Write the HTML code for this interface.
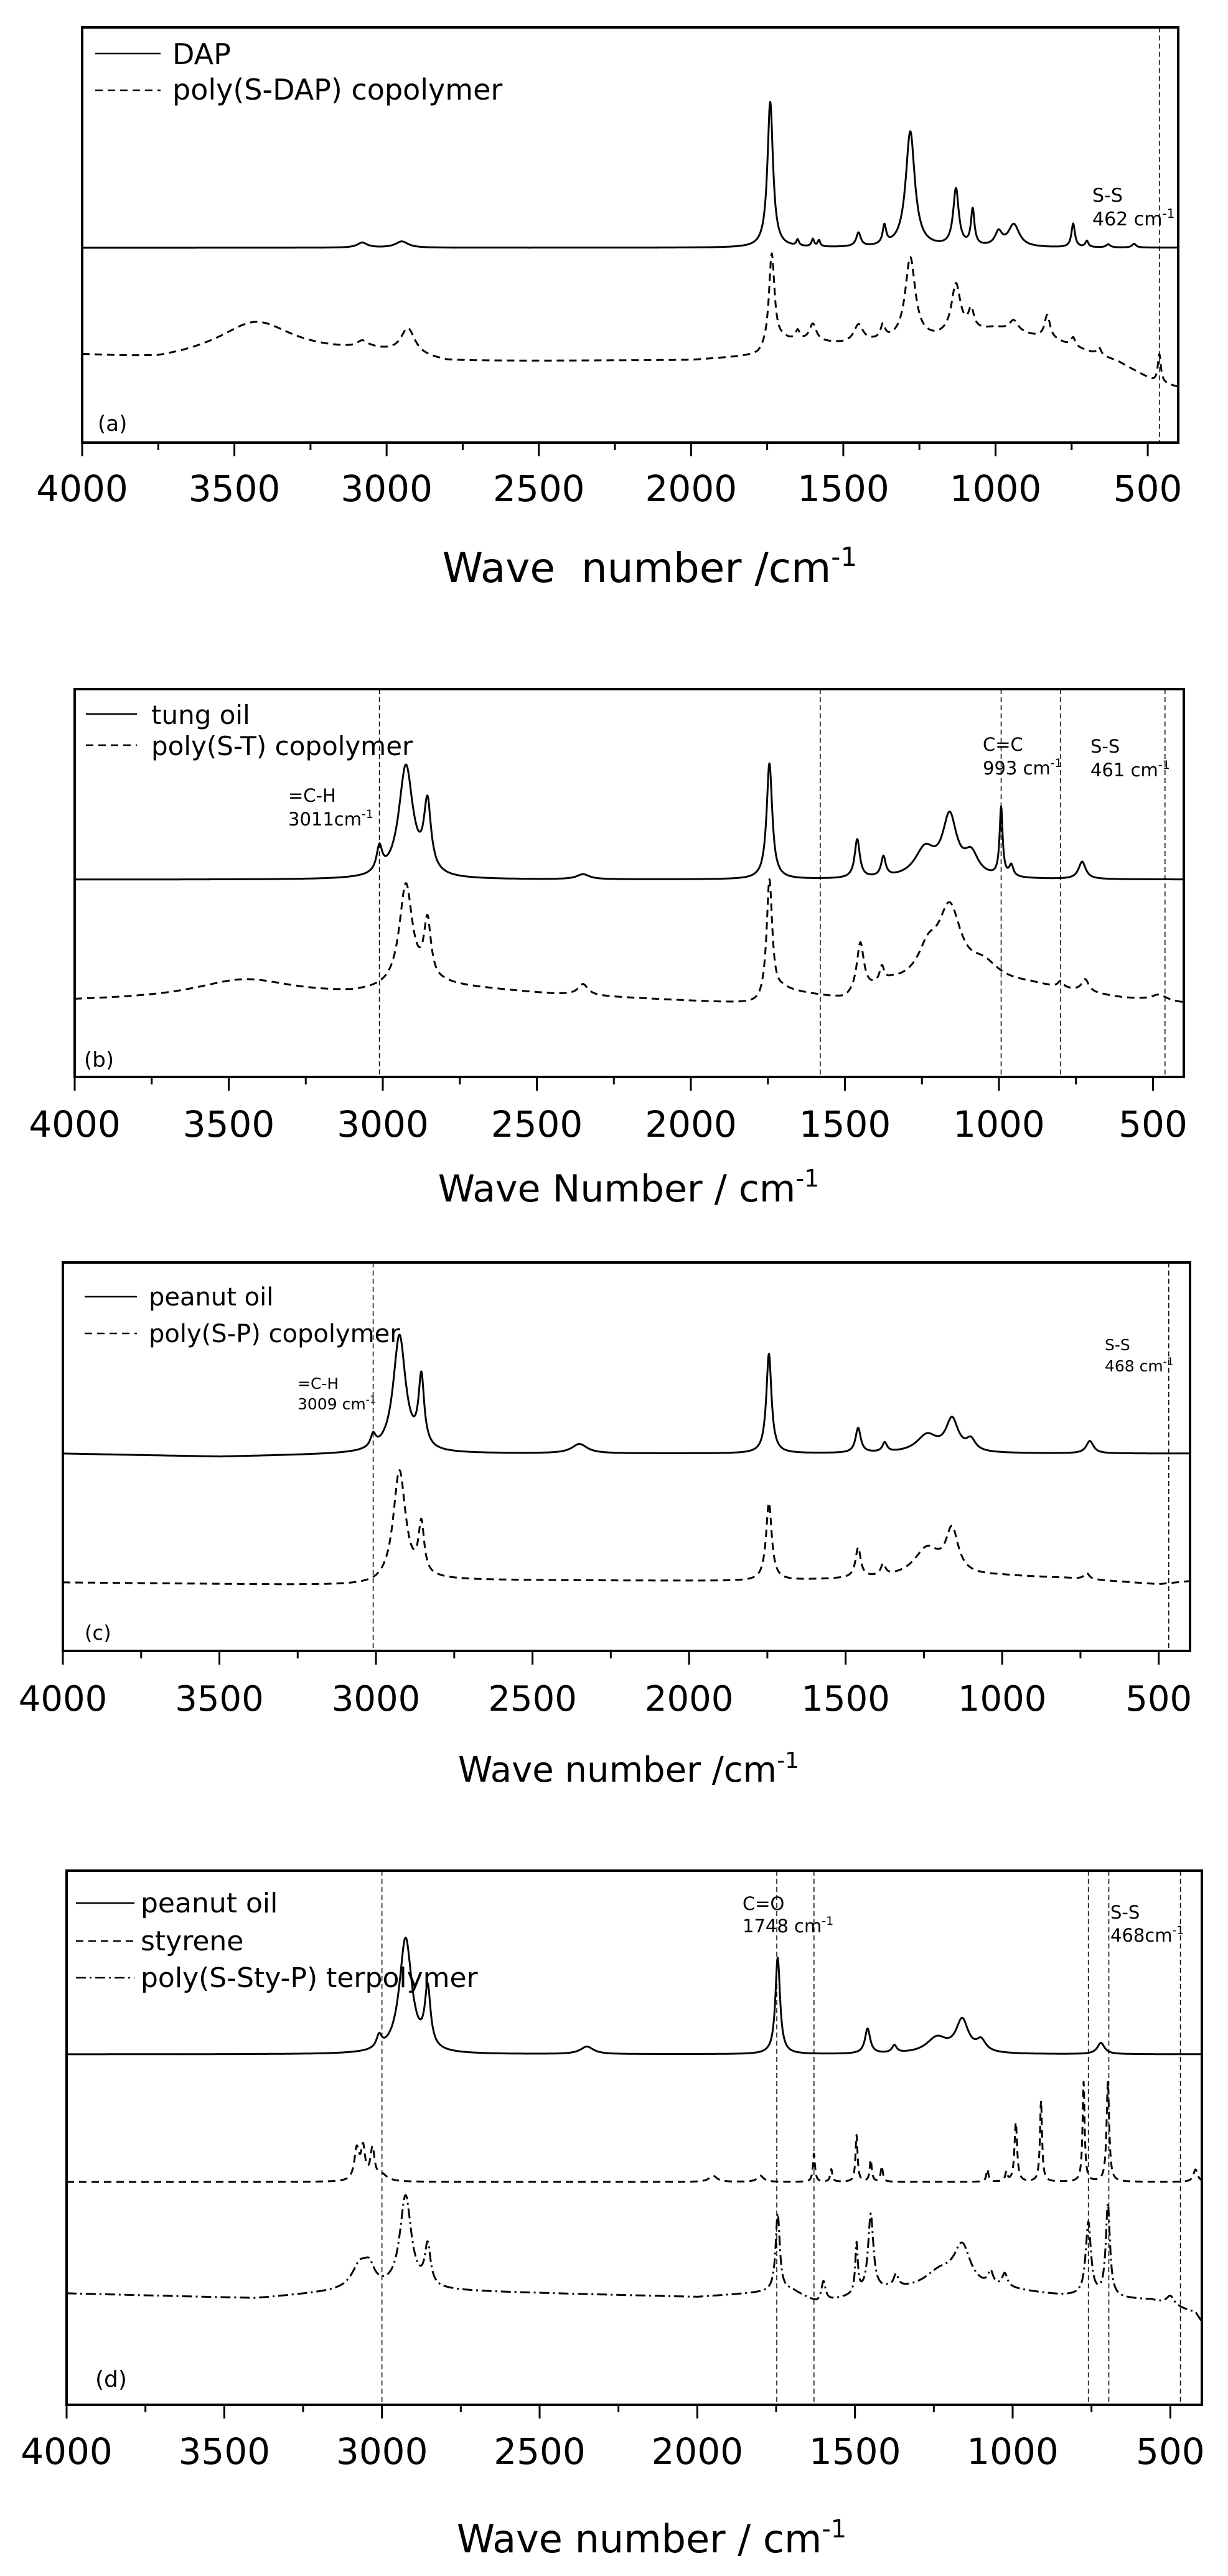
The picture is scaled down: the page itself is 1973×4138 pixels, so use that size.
<!DOCTYPE html>
<html><head><meta charset="utf-8">
<style>
html,body{margin:0;padding:0;background:#fff;}
svg{display:block;}
text{font-family:"DejaVu Sans","Liberation Sans",sans-serif;fill:#000;}
</style></head>
<body>
<svg id="s" width="1973" height="4138" viewBox="0 0 1973 4138" xmlns="http://www.w3.org/2000/svg">
<rect width="1973" height="4138" fill="#fff"/>
<g id="g"></g>
<!-- Panel a texts -->
<text x="277" y="103" font-size="46">DAP</text>
<text x="277" y="160" font-size="46">poly(S-DAP) copolymer</text>
<text x="157" y="692" font-size="34">(a)</text>
<text x="1755" y="324" font-size="30">S-S</text>
<text x="1755" y="362" font-size="30">462 cm<tspan font-size="20" dy="-12">-1</tspan></text>
<text x="1044" y="935" font-size="66" text-anchor="middle">Wave&#160; number /cm<tspan font-size="42" dy="-26">-1</tspan></text>
<!-- Panel b -->
<text x="243" y="1163" font-size="42">tung oil</text>
<text x="243" y="1213" font-size="42">poly(S-T) copolymer</text>
<text x="135" y="1714" font-size="34">(b)</text>
<text x="463" y="1288" font-size="29">=C-H</text>
<text x="463" y="1326" font-size="29">3011cm<tspan font-size="19" dy="-12">-1</tspan></text>
<text x="1579" y="1206" font-size="29">C=C</text>
<text x="1579" y="1244" font-size="29">993 cm<tspan font-size="19" dy="-12">-1</tspan></text>
<text x="1752" y="1209" font-size="29">S-S</text>
<text x="1752" y="1247" font-size="29">461 cm<tspan font-size="19" dy="-12">-1</tspan></text>
<text x="1010" y="1930" font-size="60" text-anchor="middle">Wave Number / cm<tspan font-size="38" dy="-24">-1</tspan></text>
<!-- Panel c -->
<text x="239" y="2097" font-size="40">peanut oil</text>
<text x="239" y="2156" font-size="40">poly(S-P) copolymer</text>
<text x="136" y="2634" font-size="32">(c)</text>
<text x="478" y="2231" font-size="25">=C-H</text>
<text x="478" y="2264" font-size="25">3009 cm<tspan font-size="17" dy="-10">-1</tspan></text>
<text x="1775" y="2169" font-size="25">S-S</text>
<text x="1775" y="2203" font-size="25">468 cm<tspan font-size="17" dy="-10">-1</tspan></text>
<text x="1010" y="2862" font-size="56" text-anchor="middle">Wave number /cm<tspan font-size="36" dy="-22">-1</tspan></text>
<!-- Panel d -->
<text x="226" y="3072" font-size="44">peanut oil</text>
<text x="226" y="3133" font-size="44">styrene</text>
<text x="226" y="3192" font-size="44">poly(S-Sty-P) terpolymer</text>
<text x="153" y="3834" font-size="36">(d)</text>
<text x="1193" y="3068" font-size="29">C=O</text>
<text x="1193" y="3104" font-size="29">1748 cm<tspan font-size="19" dy="-12">-1</tspan></text>
<text x="1784" y="3082" font-size="29">S-S</text>
<text x="1784" y="3119" font-size="29">468cm<tspan font-size="19" dy="-12">-1</tspan></text>
<text x="1047" y="4100" font-size="62" text-anchor="middle">Wave number / cm<tspan font-size="40" dy="-24">-1</tspan></text>
</svg>
<script>
var NS="http://www.w3.org/2000/svg",G=document.getElementById("g");
function el(t,a){var e=document.createElementNS(NS,t);for(var k in a)e.setAttribute(k,a[k]);G.appendChild(e);return e;}
function interp(b,w){for(var i=0;i<b.length-1;i++){if(w<=b[i][0]&&w>=b[i+1][0]){var t=(b[i][0]-w)/(b[i][0]-b[i+1][0]);return b[i][1]+t*(b[i+1][1]-b[i][1]);}}return b[b.length-1][1];}
function curve(P,base,peaks,dash){var d="";for(var w=4000;w>=400;w-=1){var y=interp(base,w);for(var j=0;j<peaks.length;j++){var p=peaks[j],hw=p[2]||8,dx=w-p[0];y-=p[1]*hw*hw/(dx*dx+hw*hw);}var x=P.X(w);d+=(d?"L":"M")+x.toFixed(1)+","+y.toFixed(1);}
var a={d:d,fill:"none",stroke:"#000","stroke-width":3,"stroke-linejoin":"round"};if(dash)a["stroke-dasharray"]=dash;el("path",a);}
function panel(P){P.X=function(w){return P.l+(4000-w)*(P.r-P.l)/3600;};
el("rect",{x:P.l,y:P.t,width:P.r-P.l,height:P.b-P.t,fill:"none",stroke:"#000","stroke-width":4});
for(var w=4000;w>=500;w-=250){var x=P.X(w),maj=(w%500==0);el("line",{x1:x,y1:P.b,x2:x,y2:P.b+(maj?22:12),stroke:"#000","stroke-width":3});
if(maj){var t=el("text",{x:x,y:P.ty,"font-size":P.fs,"text-anchor":"middle"});t.textContent=w;}}
(P.v||[]).forEach(function(w){var x=P.X(w);el("line",{x1:x,y1:P.t,x2:x,y2:P.b,stroke:"#000","stroke-width":1.5,"stroke-dasharray":"8,5"});});
P.leg.forEach(function(L){var a={x1:L[0],y1:L[2],x2:L[1],y2:L[2],stroke:"#000","stroke-width":2.5};if(L[3])a["stroke-dasharray"]=L[3];el("line",a);});}
var DS="12,8",DD="16,6,3,6";
var A={l:132,r:1893,t:44,b:711,ty:805,fs:58,v:[462],leg:[[153,258,86,""],[153,258,145,DS]]};panel(A);
curve(A,[[4000,398],[400,398]],[[1740,234,11],[1280,186,18],[1130,92,11],[1075,58,7],[1365,30,7],[1450,22,9],[940,36,22],[990,22,14],[745,38,7],[3080,8,20],[2950,10,25],[1650,10,5],[1600,12,5],[1580,10,5],[700,10,6],[630,5,8],[545,6,8]]);
curve(A,[[4000,572],[3750,580],[3600,575],[3050,566],[2800,582],[2000,579],[1780,572],[1700,548],[1500,553],[1200,545],[1000,528],[800,548],[600,580],[480,612],[400,622]],[[3430,55,150],[2930,42,28],[3080,10,20],[1735,150,11],[1650,15,8],[1600,28,14],[1450,28,18],[1370,22,9],[1280,132,20],[1130,80,18],[1080,32,11],[940,18,18],[830,38,11],[745,14,8],[660,12,8],[462,45,6]],DS);
var B={l:120,r:1902,t:1107,b:1730,ty:1826,fs:58,v:[3011,1580,993,800,461],leg:[[138,220,1147,""],[138,220,1197,DS]]};panel(B);
curve(B,[[4000,1413],[400,1413]],[[2925,180,28],[2855,110,14],[3011,40,11],[1745,186,11],[1460,62,10],[1375,32,9],[1240,45,40],[1160,95,28],[1090,35,28],[993,110,6],[960,18,8],[730,28,14],[2350,8,25]]);
curve(B,[[4000,1608],[3700,1606],[3100,1600],[2800,1585],[2450,1598],[1780,1614],[1700,1592],[1500,1608],[1350,1582],[900,1583],[600,1604],[400,1612]],[[3450,30,200],[2925,165,26],[2855,95,14],[2350,18,20],[1745,190,11],[1450,80,14],[1380,25,9],[1230,45,40],[1160,115,45],[1050,28,60],[800,10,10],[720,20,14],[480,10,30]],DS);
var C={l:101,r:1912,t:2028,b:2652,ty:2748,fs:56,v:[3009,468],leg:[[136,220,2083,""],[136,220,2142,DS]]};panel(C);
curve(C,[[4000,2335],[3500,2340],[3000,2335],[400,2335]],[[2925,188,24],[2855,112,11],[3009,20,10],[1745,160,10],[1460,40,10],[1375,15,9],[1240,28,40],[1160,52,24],[1100,18,18],[720,20,14],[2350,15,30]]);
curve(C,[[4000,2542],[3000,2547],[2800,2538],[1780,2540],[1500,2537],[1000,2532],[800,2535],[500,2545],[400,2540]],[[2925,180,24],[2855,82,11],[1745,125,11],[1460,48,10],[1380,18,9],[1240,45,50],[1160,70,24],[730,10,10]],DS);
var D={l:107,r:1931,t:3005,b:3863,ty:3958,fs:58,v:[3000,1748,1630,760,695,468],leg:[[122,216,3057,""],[122,216,3118,DS],[122,216,3177,DD]]};panel(D);
curve(D,[[4000,3300],[400,3300]],[[2925,185,24],[2855,95,11],[3009,20,10],[1745,155,9],[2350,12,25],[1460,40,10],[1375,12,9],[1240,25,40],[1160,52,24],[1100,18,18],[720,18,14]]);
curve(D,[[4000,3505],[400,3505]],[[3080,50,9],[3060,50,8],[3030,50,8],[1630,45,4],[1575,20,4],[1495,75,4],[1450,35,4],[1415,25,4],[1080,20,4],[1020,15,4],[990,95,5],[910,130,4],[775,160,4],[698,160,5],[420,20,8],[1950,10,15],[1800,10,12],[3000,10,20]],DS);
curve(D,[[4000,3684],[3400,3692],[3100,3680],[2800,3680],[2000,3690],[1700,3680],[1620,3700],[1500,3690],[1400,3680],[1000,3680],[850,3688],[560,3695],[420,3715],[400,3730]],[[2925,150,22],[2855,65,11],[3070,38,30],[3040,28,20],[1745,125,8],[1600,32,8],[1495,80,5],[1450,125,10],[1370,20,9],[1160,65,32],[1230,28,60],[1070,22,10],[1025,22,10],[760,118,10],[698,148,8],[500,15,15]],DD);
</script>
</body></html>
